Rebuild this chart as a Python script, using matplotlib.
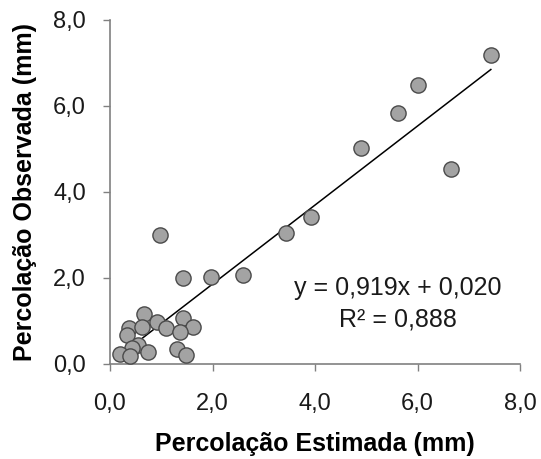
import numpy as np
import matplotlib.pyplot as plt

plt.rcParams['font.family'] = ['Liberation Sans', 'DejaVu Sans']

# dados (mm)
estimada = [0.98, 1.43, 1.98, 2.59, 3.43, 3.92, 7.43, 6.00, 5.61, 4.90, 6.65,
            0.67, 0.91, 0.38, 0.63, 1.09, 0.33, 1.43, 1.61, 1.37,
            0.55, 0.42, 0.75, 0.20, 0.39, 1.30, 1.48]
observada = [3.00, 2.01, 2.03, 2.07, 3.04, 3.41, 7.19, 6.49, 5.84, 5.03, 4.53,
             1.16, 0.98, 0.84, 0.85, 0.84, 0.67, 1.06, 0.85, 0.74,
             0.43, 0.37, 0.29, 0.23, 0.19, 0.34, 0.20]
ticks = [0, 2, 4, 6, 8]
tick_labels = ['0,0', '2,0', '4,0', '6,0', '8,0']
a, b = 0.919, 0.020

fig = plt.figure(figsize=(5.41, 4.59), dpi=100)
ax = fig.add_axes([0.2033, 0.207, 0.758, 0.7495])

ax.scatter(estimada, observada, s=120, facecolor='#a3a3a3', edgecolor='#4a4a4a',
           linewidth=1.0, zorder=3)

# linha de tendencia
xl = np.array([min(estimada), max(estimada)])
ax.plot(xl, a * xl + b, color='black', linewidth=1.1, zorder=2)

ax.set_xlim(0, 8)
ax.set_ylim(0, 8)
ax.set_xticks(ticks)
ax.set_xticklabels(tick_labels)
ax.set_yticks(ticks)
ax.set_yticklabels(tick_labels)
ax.tick_params(labelsize=17, length=5, width=1, color='#808080', labelcolor='#1a1a1a')
ax.tick_params(axis='x', pad=16)
ax.tick_params(axis='y', pad=12.3)

for s in ['top', 'right']:
    ax.spines[s].set_visible(False)
for s in ['left', 'bottom']:
    ax.spines[s].set_color('#808080')
    ax.spines[s].set_linewidth(1.2)

ax.set_xlabel('Percolação Estimada (mm)', fontsize=18, fontweight='bold', labelpad=12)
ax.set_ylabel('Percolação Observada (mm)', fontsize=18, fontweight='bold', labelpad=11.5)

ax.text(5.61, 1.77, 'y = 0,919x + 0,020', fontsize=18, ha='center', va='center', color='#1a1a1a')
ax.text(5.61, 1.03, 'R² = 0,888', fontsize=18, ha='center', va='center', color='#1a1a1a')

fig.savefig('out.png', dpi=100)
